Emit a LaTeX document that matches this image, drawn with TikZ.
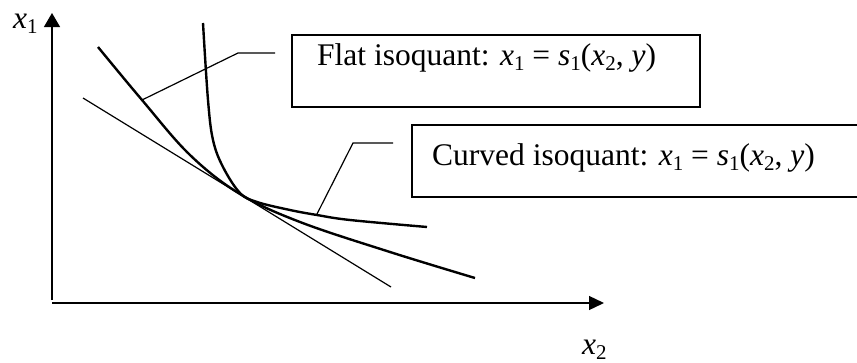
\documentclass[tikz,border=0pt]{standalone}
\usepackage{fontspec}
\setmainfont{Liberation Serif}
\usetikzlibrary{arrows.meta}
\newcommand{\sbsc}[1]{\raisebox{-0.16em}{\fontsize{21}{21}\selectfont #1}}
\begin{document}
\begin{tikzpicture}[x=1pt,y=-1pt,
  axis/.style={line width=1.3pt},
  curve/.style={line width=2.4pt},
  thin line/.style={line width=1.2pt},
  boxstyle/.style={draw, line width=1.3pt, inner sep=0pt},
  lbl/.style={anchor=base west, inner sep=0pt, font=\fontsize{31.5}{36}\selectfont}]
\useasboundingbox (0,0) rectangle (857,362);
\clip (0,0) rectangle (857,362);
% axes
\coordinate (O) at (52,303);
\coordinate (ystart) at (52,300);
\coordinate (ytop) at (52,13);
\coordinate (xend) at (604,303);
\draw[axis, -{Triangle[length=14pt,width=16pt]}] (ystart) -- (ytop);
\draw[axis, -{Triangle[length=15pt,width=14pt]}] (O) -- (xend);
\node[lbl] (xone) at (13,28) {\textit{x}\sbsc{1}};
\node[lbl] (xtwo) at (582,354) {\textit{x}\sbsc{2}};
% tangent line
\coordinate (ta) at (83,98);
\coordinate (tb) at (391,287);
\draw[thin line] (ta) -- (tb);
% flat isoquant
\draw[curve] plot[smooth, tension=0.6] coordinates {(98,47) (142,100) (190,155) (240,194) (300,222) (390,252) (475,278)};
% curved isoquant
\draw[curve] plot[smooth, tension=0.6] coordinates {(203,23) (208,100) (213,140) (223,167) (240,193) (257,202) (290,210) (317,215) (350,220) (427,227)};
% boxes
\node[boxstyle, minimum width=408pt, minimum height=72pt] (flatbox) at (496,71) {};
\node[lbl] (flattext) at (317,65) {Flat isoquant: \textit{x}\sbsc{1} = \textit{s}\sbsc{1}(\textit{x}\sbsc{2}, \textit{y})};
\node[boxstyle, minimum width=458pt, minimum height=72pt] (curvbox) at (641,161) {};
\node[lbl] (curvtext) at (432,165) {Curved isoquant: \textit{x}\sbsc{1} = \textit{s}\sbsc{1}(\textit{x}\sbsc{2}, \textit{y})};
% leaders
\coordinate (fa) at (142,100);
\coordinate (fb) at (238,53);
\coordinate (fc) at (275,53);
\draw[thin line] (fa) -- (fb) -- (fc);
\coordinate (ca) at (317,214);
\coordinate (cb) at (353,143);
\coordinate (cc) at (393,143);
\draw[thin line] (ca) -- (cb) -- (cc);
\end{tikzpicture}
\end{document}
